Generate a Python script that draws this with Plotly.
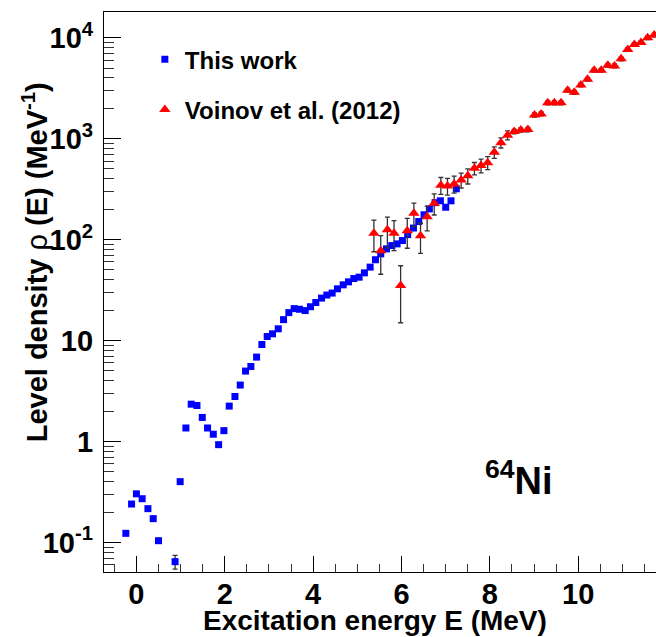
import plotly.graph_objects as go

# ---- data: level density of 64Ni ----
E_this = [-0.24, -0.11, 0.00, 0.13, 0.26, 0.38, 0.50, 0.875, 0.99, 1.12, 1.24, 1.37,
          1.49, 1.61, 1.74, 1.86, 1.98, 2.10, 2.23, 2.35, 2.47, 2.59, 2.72, 2.84,
          2.96, 3.08, 3.21, 3.33, 3.45, 3.57, 3.69, 3.82, 3.94, 4.06, 4.19, 4.31,
          4.43, 4.55, 4.68, 4.80, 4.92, 5.04, 5.16, 5.29, 5.41, 5.53, 5.66, 5.78,
          5.90, 6.02, 6.14, 6.27, 6.39, 6.51, 6.63, 6.76, 6.88, 7.00, 7.12, 7.24]
rho_this = [0.123, 0.24, 0.303, 0.271, 0.216, 0.172, 0.104, 0.0645, 0.40, 1.36, 2.34, 2.27,
            1.73, 1.36, 1.18, 0.93, 1.28, 2.24, 2.79, 3.62, 4.98, 5.53, 6.85, 9.13,
            10.96, 11.65, 13.06, 16.1, 18.9, 20.7, 20.4, 19.8, 21.6, 23.8, 26.3, 28.2,
            29.5, 32.5, 35.6, 38.1, 41.1, 42.4, 46.8, 53.3, 63.1, 72.2, 80.9, 87.2,
            90.6, 97.8, 112, 130, 151, 176, 201, 232, 242, 209, 242, 318]
err_this = [0, 0, 0, 0, 0, 0, 0, 0.010, 0, 0, 0, 0,
            0, 0, 0, 0, 0, 0, 0, 0, 0, 0, 0, 0,
            0, 0, 0, 0, 0, 0, 0, 0, 0, 0, 0, 0,
            0, 0, 0, 0, 0, 0, 0, 0, 0, 0, 0, 0,
            0, 0, 0, 0, 0, 0, 0, 0, 0, 0, 0, 0]

E_voinov = [5.375, 5.53, 5.68, 5.83, 5.98, 6.13, 6.28, 6.43, 6.58, 6.74, 6.89, 7.04,
            7.19, 7.35, 7.50, 7.65, 7.80, 7.95, 8.10, 8.25, 8.40, 8.55, 8.70, 8.86,
            9.01, 9.16, 9.31, 9.46, 9.61, 9.76, 9.91, 10.06, 10.21, 10.36, 10.52, 10.67,
            10.82, 10.97, 11.12, 11.27, 11.42, 11.57, 11.72]
rho_voinov = [115.7, 77.3, 124.8, 115.7, 35, 122, 182, 109, 168, 229, 346, 340,
              356, 390, 428, 509, 541, 578, 733, 912, 1081, 1173, 1219, 1228,
              1717, 1757, 2259, 2259, 2259, 3015, 2879, 3404, 3873, 4757, 4757, 5333,
              5250, 6164, 7626, 8537, 8938, 10000, 10640]
err_voinov = [40, 32, 42, 38, 20, 40, 48, 36, 46, 54, 66, 64,
              68, 66, 73, 71, 84, 85, 95, 105, 110, 60, 60, 60,
              80, 80, 100, 100, 100, 130, 130, 150, 170, 200, 200, 230,
              230, 260, 320, 360, 380, 420, 450]

x_ticks = [0, 2, 4, 6, 8, 10]
y_ticks = [0.1, 1, 10, 100, 1000, 10000]
y_ticktext = ["10<sup>-1</sup>", "1", "10", "10<sup>2</sup>", "10<sup>3</sup>", "10<sup>4</sup>"]

FONT = "Liberation Sans"
ERRCOL = "#333333"

fig = go.Figure()

fig.add_trace(go.Scatter(
    x=E_this, y=rho_this, mode="markers", name="This work",
    legendgroup="a",
    marker=dict(symbol="square", size=7, color="#0000ff", line=dict(width=0)),
    error_y=dict(type="data", array=err_this, color=ERRCOL, thickness=1.3, width=2.5),
))
fig.add_trace(go.Scatter(
    x=E_voinov, y=rho_voinov, mode="markers", name="Voinov et al. (2012)",
    legendgroup="b",
    marker=dict(symbol="triangle-up", size=10, color="#ff0000", line=dict(width=0)),
    error_y=dict(type="data", array=err_voinov, color=ERRCOL, thickness=1.3, width=2.5),
))

axis_font = dict(family=FONT, size=29, color="black", weight="bold")

fig.update_xaxes(
    range=[-0.734, 11.76], tickvals=x_ticks, ticks="inside", ticklen=16, tickwidth=1.3,
    tickcolor="black", showline=True, linecolor="black", linewidth=1.3, mirror=True,
    showgrid=False, zeroline=False, tickfont=axis_font, ticklabelstandoff=-4,
    minor=dict(dtick=0.5, tick0=0, ticks="inside", ticklen=8, tickwidth=1.3, tickcolor="#333"),
)
fig.update_yaxes(
    type="log", range=[-1.293, 4.254], tickvals=y_ticks, ticktext=y_ticktext,
    ticks="inside", ticklen=17, tickwidth=1.3, tickcolor="black",
    showline=True, linecolor="black", linewidth=1.3, mirror=False,
    showgrid=False, zeroline=False, tickfont=axis_font, ticklabelstandoff=4,
    minor=dict(dtick="D1", ticks="inside", ticklen=10, tickwidth=1.3, tickcolor="#333"),
)

fig.update_layout(
    width=656, height=637,
    margin=dict(l=104, r=0, t=12, b=65),
    plot_bgcolor="white", paper_bgcolor="white",
    font=dict(family=FONT, color="black"),
    showlegend=True,
    legend=dict(
        x=0.074, y=0.955, xanchor="left", yanchor="top",
        font=dict(family=FONT, size=24, color="black", weight="bold"),
        bgcolor="rgba(0,0,0,0)", tracegroupgap=16, traceorder="grouped",
    ),
    annotations=[
        dict(text="Excitation energy E (MeV)", xref="paper", yref="paper",
             x=0.491, y=-0.1155, xanchor="center", yanchor="bottom", showarrow=False,
             borderpad=0,
             font=dict(family=FONT, size=28, color="black", weight="bold")),
        dict(text="Level density <span style='font-weight:normal'>\u03c1</span> (E) (MeV<sup>-1</sup>)",
             xref="paper", yref="paper", x=-0.125, y=0.553, xanchor="center", yanchor="middle",
             textangle=-90, showarrow=False,
             font=dict(family=FONT, size=29, color="black", weight="bold")),
        dict(text="<sup>64</sup>Ni", xref="paper", yref="paper", x=0.752, y=0.168,
             xanchor="center", yanchor="middle", showarrow=False,
             font=dict(family=FONT, size=38, color="black", weight="bold")),
    ],
)

fig.write_html("out.html")
